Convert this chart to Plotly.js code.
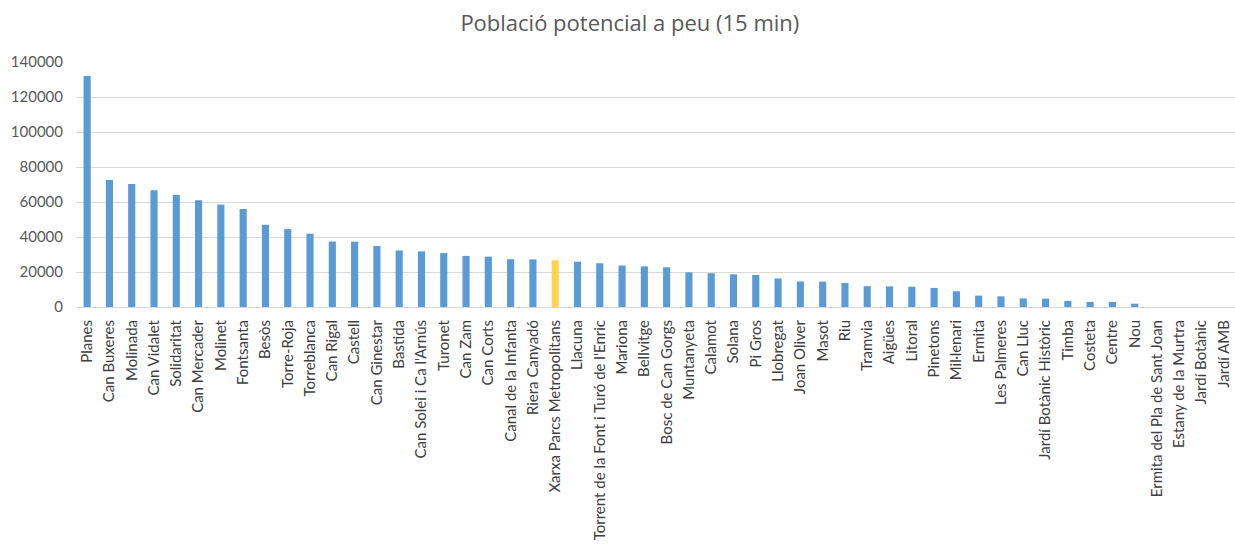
<!DOCTYPE html>
<html>
<head>
<meta charset="utf-8">
<script src="https://cdn.plot.ly/plotly-3.0.1.min.js"></script>
<style>html,body{margin:0;padding:0;background:#fff;} #chart{width:1235px;height:547px;}</style>
</head>
<body>
<div id="chart"></div>
<script>
const categories = [
  "Planes","Can Buxeres","Molinada","Can Vidalet","Solidaritat","Can Mercader","Molinet","Fontsanta",
  "Besòs","Torre-Roja","Torreblanca","Can Rigal","Castell","Can Ginestar","Bastida",
  "Can Solei i Ca l'Arnús","Turonet","Can Zam","Can Corts","Canal de la Infanta","Riera Canyadó",
  "Xarxa Parcs Metropolitans","Llacuna","Torrent de la Font i Turó de l'Enric","Mariona","Bellvitge",
  "Bosc de Can Gorgs","Muntanyeta","Calamot","Solana","Pi Gros","Llobregat","Joan Oliver","Masot",
  "Riu","Tramvia","Aigües","Litoral","Pinetons","Mil·lenari","Ermita","Les Palmeres","Can Lluc",
  "Jardí Botànic Històric","Timba","Costeta","Centre","Nou","Ermita del Pla de Sant Joan",
  "Estany de la Murtra","Jardí Botànic","Jardí AMB"
];
const population = [
  132000,72600,70300,66700,64000,61000,58500,56000,
  47000,44500,41900,37400,37300,34900,32300,
  31800,30800,29200,28800,27300,27200,
  26700,25900,25000,23700,23200,
  22700,19800,19300,18700,18300,16300,14600,14500,
  13700,11900,11800,11600,10900,9000,6500,6100,4900,
  4800,3500,2900,2900,1900,0,
  0,0,0
];
const highlighted = "Xarxa Parcs Metropolitans";
const yTicks = [0,20000,40000,60000,80000,100000,120000,140000];

const colors = categories.map(c => c === highlighted ? "#FFD24F" : "#5B9BD5");

const trace = {
  type: "bar",
  x: categories,
  y: population,
  marker: {color: colors},
  hoverinfo: "x+y"
};

const layout = {
  width: 1235, height: 547,
  margin: {l: 76, r: 0, t: 62, b: 240},
  paper_bgcolor: "#fff", plot_bgcolor: "#fff",
  font: {family: "Lato, 'Open Sans', sans-serif", color: "#595959", size: 15},
  title: {
    text: "Població potencial a peu (15 min)",
    x: 0.51, xref: "container", xanchor: "center",
    y: 0.958, yref: "container", yanchor: "middle",
    font: {family: "'Open Sans', sans-serif", size: 22, color: "#595959"}
  },
  bargap: 0.68,
  showlegend: false,
  xaxis: {
    type: "category",
    range: [-0.5, 51.5],
    tickangle: -90,
    showgrid: false,
    showline: true, linecolor: "#d9d9d9", linewidth: 1,
    ticks: "",
    ticklabelstandoff: 6,
    tickfont: {size: 15, color: "#404040"},
    automargin: false
  },
  yaxis: {
    range: [0, 140000],
    tickvals: yTicks,
    tickformat: "d",
    showgrid: true, gridcolor: "#d9d9d9", gridwidth: 1,
    zeroline: false,
    showline: false,
    ticks: "",
    ticklabelstandoff: 12,
    tickfont: {size: 15, color: "#595959"},
    automargin: false
  }
};

Plotly.newPlot("chart", [trace], layout, {displayModeBar: false, staticPlot: true});
</script>
</body>
</html>
